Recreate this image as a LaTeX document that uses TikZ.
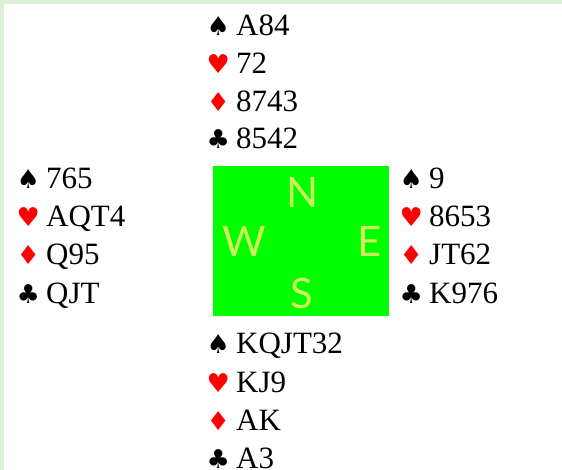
\documentclass[tikz,border=0pt]{standalone}
\usepackage{fontspec}
\setmainfont{Liberation Serif}
\newfontfamily\suitfont{DejaVu Sans}
\newfontfamily\compassfont{Lato}
\usetikzlibrary{positioning}
\definecolor{framegreen}{RGB}{220,237,216}
\definecolor{feltgreen}{RGB}{0,255,0}
\definecolor{seatyellow}{RGB}{204,240,90}
\definecolor{suitred}{RGB}{255,0,0}
% suit glyphs, all in one fixed-width column
\newcommand{\suitbox}[2]{\makebox[20pt][c]{\color{#1}\suitfont\fontsize{26}{26}\selectfont\char"#2}\hspace{8pt}}
\newcommand{\spd}{\suitbox{black}{2660}}
\newcommand{\hrt}{\suitbox{suitred}{2665}}
\newcommand{\dmd}{\suitbox{suitred}{2666}}
\newcommand{\clb}{\suitbox{black}{2663}}
\tikzset{
  holding/.style={anchor=base west,inner sep=0pt,font=\fontsize{31}{36}\selectfont},
  felt/.style   ={fill=feltgreen,minimum width=176pt,minimum height=150pt,inner sep=0pt},
  seat/.style   ={text=seatyellow,inner sep=0pt,font=\compassfont\fontsize{42}{42}\selectfont},
}

\begin{document}
\begin{tikzpicture}[x=1pt,y=-1pt]
  \useasboundingbox (0,0) rectangle (562,470);
  \fill[framegreen] (0,0) rectangle (562,470);
  \fill[white] (4,4) rectangle (562,470);

  % table
  \node[felt] (tbl) at (301,241) {};
  \node[seat] (N) at (303,192) {N};
  \node[seat] (W) at (244,241) {W};
  \node[seat] (E) at (369.5,241) {E};
  \node[seat] (S) at (301.5,293) {S};

  % north
  \node[holding] (ns) at (208,36)  {\spd A84};
  \node[holding] (nh) at (208,74)  {\hrt 72};
  \node[holding] (nd) at (208,111.5) {\dmd 8743};
  \node[holding] (nc) at (208,149) {\clb 8542};

  % west
  \node[holding] (ws) at (18,189) {\spd 765};
  \node[holding] (wh) at (18,227) {\hrt AQT4};
  \node[holding] (wd) at (18,265) {\dmd Q95};
  \node[holding] (wc) at (18,303) {\clb QJT};

  % east
  \node[holding] (es) at (401,189) {\spd 9};
  \node[holding] (eh) at (401,227) {\hrt 8653};
  \node[holding] (ed) at (401,265) {\dmd JT62};
  \node[holding] (ec) at (401,303) {\clb K976};

  % south
  \node[holding] (ss) at (208,353) {\spd KQJT32};
  \node[holding] (sh) at (208,392) {\hrt KJ9};
  \node[holding] (sd) at (208,430) {\dmd AK};
  \node[holding] (sc) at (208,468) {\clb A3};
\end{tikzpicture}
\end{document}
